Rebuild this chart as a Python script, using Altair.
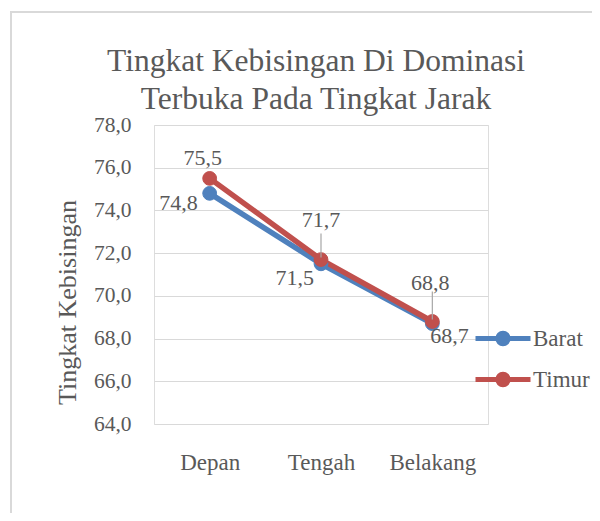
import altair as alt
import pandas as pd

# ---- data ----
categories = ["Depan", "Tengah", "Belakang"]
series_names = ["Barat", "Timur"]
barat = [74.8, 71.5, 68.7]
timur = [75.5, 71.7, 68.8]
y_ticks = [64, 66, 68, 70, 72, 74, 76, 78]

rows = []
for s, vals in zip(series_names, [barat, timur]):
    for c, v in zip(categories, vals):
        rows.append({"kategori": c, "seri": s, "nilai": v})
df = pd.DataFrame(rows)

FONT = "Liberation Serif"
TXT = "#595959"
GRID = "#D9D9D9"
colors = ["#4F81BD", "#C0504D"]

W, H = 334, 299

x_enc = alt.X(
    "kategori:N",
    sort=categories,
    scale=alt.Scale(type="point", padding=0.5),
    axis=alt.Axis(
        title=None, labelAngle=0, labelFont=FONT, labelFontSize=23,
        labelColor=TXT, labelPadding=27, ticks=False, domain=False, grid=False,
        labelBaseline="top",
    ),
)
y_enc = alt.Y(
    "nilai:Q",
    scale=alt.Scale(domain=[64, 78], nice=False, zero=False),
    axis=alt.Axis(
        values=y_ticks,
        labelExpr="replace(format(datum.value, '.1f'), '.', ',')",
        labelFont=FONT, labelFontSize=21.5, labelColor=TXT, labelPadding=23,
        ticks=False, domain=False, grid=True, gridColor=GRID, gridWidth=1,
        title="Tingkat Kebisingan", titleFont=FONT, titleFontSize=26,
        titleFontWeight="normal", titleColor=TXT,
        titleX=-87, titleY=177, titleAlign="center", titleBaseline="middle",
        titleAngle=270,
    ),
)

# legend symbol: line with a dot
sym_path = "M-1,0L1,0M-0.19,0A0.19,0.19,0,1,0,0.19,0A0.19,0.19,0,1,0,-0.19,0Z"

legend = alt.Legend(
    title=None, orient="none", legendX=319, legendY=194,
    symbolType=sym_path, symbolSize=3025, symbolStrokeWidth=5,
    labelFont=FONT, labelFontSize=23, labelColor=TXT, labelOffset=0,
    clipHeight=39, rowPadding=2, padding=0,
)
stroke_scale = alt.Scale(domain=series_names, range=colors)

base = alt.Chart(df)

border = base.mark_rect(fill=None, stroke=GRID, strokeWidth=1.5).encode(
    x=alt.value(-143), x2=alt.value(460), y=alt.value(-113), y2=alt.value(420)
)

lines = base.mark_line(strokeWidth=5.5).encode(
    x=x_enc, y=y_enc,
    stroke=alt.Stroke("seri:N", scale=stroke_scale, legend=legend),
    order=alt.Order("seri:N"),
)

points = base.mark_point(filled=True, size=190, opacity=1, strokeWidth=1).encode(
    x=x_enc, y=y_enc,
    fill=alt.Fill("seri:N", scale=stroke_scale, legend=legend),
    stroke=alt.Stroke("seri:N", scale=stroke_scale, legend=legend),
    order=alt.Order("seri:N"),
)

# label placement (style, kept in code)
label_style = {
    ("Timur", "Depan"): dict(align="center", dx=-7, dy=-20),
    ("Barat", "Depan"): dict(align="right", dx=-12, dy=10),
    ("Timur", "Tengah"): dict(align="center", dx=0, dy=-40),
    ("Barat", "Tengah"): dict(align="right", dx=-7, dy=14),
    ("Timur", "Belakang"): dict(align="center", dx=-2, dy=-38),
    ("Barat", "Belakang"): dict(align="left", dx=-2, dy=12),
}
leaders = {
    ("Timur", "Tengah"): (-26, -2),
    ("Timur", "Belakang"): (-30, -2),
}

layers = [border, lines, points]

for (s, c), (o1, o2) in leaders.items():
    layers.append(
        base.transform_filter(
            (alt.datum.seri == s) & (alt.datum.kategori == c)
        ).mark_rule(color="#A6A6A6", strokeWidth=1.2, yOffset=o1, y2Offset=o2).encode(
            x=x_enc, y=y_enc, y2="nilai:Q"
        )
    )

for (s, c), st in label_style.items():
    layers.append(
        base.transform_filter(
            (alt.datum.seri == s) & (alt.datum.kategori == c)
        ).transform_calculate(
            lbl="replace(format(datum.nilai, '.1f'), '.', ',')"
        ).mark_text(
            font=FONT, fontSize=22, color=TXT, baseline="middle", **st
        ).encode(x=x_enc, y=y_enc, text="lbl:N")
    )

chart = alt.layer(*layers).properties(
    width=W, height=H,
    title=alt.TitleParams(
        text=["Tingkat Kebisingan Di Dominasi", "Terbuka Pada Tingkat Jarak"],
        font=FONT, fontSize=31.5, fontWeight="normal", color=TXT,
        lineHeight=38, anchor="middle", dx=-5, offset=-136, baseline="bottom",
        frame="group",
    ),
    autosize=alt.AutoSizeParams(type="none"),
    padding={"left": 146, "top": 117, "right": 104, "bottom": 89},
).configure_view(stroke=None).configure(background="white")

chart.save("out.html", embed_options={"renderer": "svg", "actions": False})
